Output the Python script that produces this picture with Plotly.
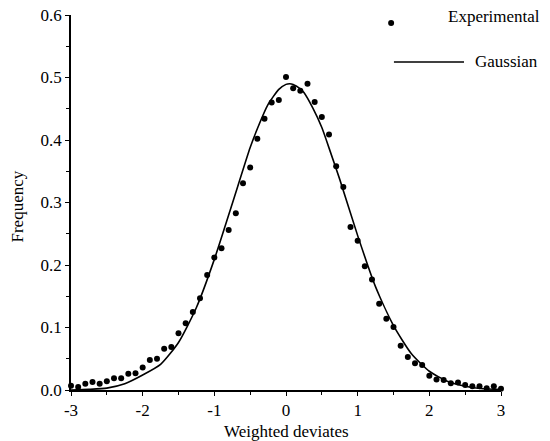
import plotly.graph_objects as go

# Experimental points (weighted deviates vs frequency)
exp_x = [-3.0, -2.9, -2.8, -2.7, -2.6, -2.5, -2.4, -2.3, -2.2, -2.1,
         -2.0, -1.9, -1.8, -1.7, -1.6, -1.5, -1.4, -1.3, -1.2, -1.1,
         -1.0, -0.9, -0.8, -0.7, -0.6, -0.5, -0.4, -0.3, -0.2, -0.1,
         0.0, 0.1, 0.2, 0.3, 0.4, 0.5, 0.6, 0.7, 0.8, 0.9,
         1.0, 1.1, 1.2, 1.3, 1.4, 1.5, 1.6, 1.7, 1.8, 1.9,
         2.0, 2.1, 2.2, 2.3, 2.4, 2.5, 2.6, 2.7, 2.8, 2.9, 3.0]
exp_y = [0.007, 0.005, 0.010, 0.013, 0.010, 0.014, 0.019, 0.019, 0.026, 0.027,
         0.036, 0.048, 0.050, 0.066, 0.069, 0.091, 0.107, 0.125, 0.147, 0.184,
         0.212, 0.227, 0.256, 0.283, 0.331, 0.356, 0.402, 0.434, 0.460, 0.464,
         0.501, 0.483, 0.479, 0.490, 0.461, 0.437, 0.409, 0.358, 0.325, 0.261,
         0.239, 0.198, 0.177, 0.138, 0.114, 0.101, 0.071, 0.053, 0.043, 0.040,
         0.023, 0.017, 0.016, 0.011, 0.012, 0.008, 0.006, 0.006, 0.003, 0.006, 0.002]

# Gaussian curve
gauss_x = [-3.0, -2.75, -2.5, -2.25, -2.0, -1.75, -1.5, -1.25, -1.0, -0.75,
           -0.5, -0.4, -0.25, -0.1, 0.0, 0.05, 0.1, 0.2, 0.25, 0.375, 0.5, 0.625,
           0.75, 1.0, 1.25, 1.5, 1.75, 2.0, 2.25, 2.5, 2.75, 3.0]
gauss_y = [0.000, 0.001, 0.003, 0.010, 0.024, 0.041, 0.076, 0.132, 0.209, 0.298,
           0.388, 0.418, 0.457, 0.481, 0.489, 0.490, 0.489, 0.482, 0.476, 0.451, 0.420, 0.379,
           0.337, 0.247, 0.165, 0.103, 0.058, 0.030, 0.014, 0.006, 0.002, 0.001]

x_ticks = [-3, -2, -1, 0, 1, 2, 3]
y_ticks = [0.0, 0.1, 0.2, 0.3, 0.4, 0.5, 0.6]
y_tick_labels = ["0.0", "0.1", "0.2", "0.3", "0.4", "0.5", "0.6"]

font_family = "Liberation Serif, Times New Roman, serif"

fig = go.Figure()
fig.add_trace(go.Scatter(x=gauss_x, y=gauss_y, mode="lines",
                         line=dict(color="black", width=1.6, shape="spline", smoothing=0.6),
                         name="Gaussian", showlegend=False, cliponaxis=False))
fig.add_trace(go.Scatter(x=exp_x, y=exp_y, mode="markers",
                         marker=dict(color="black", size=6),
                         name="Experimental", showlegend=False, cliponaxis=False))

# Manual legend (top right)
fig.add_shape(type="circle", xref="paper", yref="paper",
              x0=0.7375, x1=0.7515, y0=0.9865, y1=0.9705,
              fillcolor="black", line=dict(color="black", width=0))
fig.add_annotation(xref="paper", yref="paper", x=0.872, y=0.995, xanchor="left",
                   yanchor="middle", text="Experimental", showarrow=False,
                   font=dict(family=font_family, size=17, color="black"))
fig.add_shape(type="line", xref="paper", yref="paper",
              x0=0.751, x1=0.914, y0=0.875, y1=0.875,
              line=dict(color="black", width=1.5))
fig.add_annotation(xref="paper", yref="paper", x=0.935, y=0.875, xanchor="left",
                   yanchor="middle", text="Gaussian", showarrow=False,
                   font=dict(family=font_family, size=17, color="black"))

# Axis titles
fig.add_annotation(xref="paper", yref="paper", x=0.5, y=-0.11, xanchor="center",
                   yanchor="middle", text="Weighted deviates", showarrow=False,
                   font=dict(family=font_family, size=17, color="black"))
fig.add_annotation(xref="paper", yref="paper", x=-0.125, y=0.49, xanchor="center",
                   yanchor="middle", text="Frequency", showarrow=False, textangle=-90,
                   font=dict(family=font_family, size=17, color="black"))

fig.update_layout(
    width=550, height=441,
    margin=dict(l=71, r=49, t=15, b=51, autoexpand=False),
    paper_bgcolor="white", plot_bgcolor="white",
    font=dict(family=font_family, size=17, color="black"),
    showlegend=False,
)
fig.update_xaxes(range=[-3, 3], tickvals=x_ticks, ticktext=[str(v) for v in x_ticks],
                 automargin=False,
                 showline=True, linecolor="black", linewidth=1.5,
                 ticks="outside", ticklen=4, tickcolor="black", tickwidth=1.2,
                 minor=dict(dtick=0.5, tick0=0, ticks="outside", ticklen=3, tickcolor="black"),
                 showgrid=False, zeroline=False,
                 tickfont=dict(family=font_family, size=17, color="black"))
fig.update_yaxes(range=[0, 0.6], tickvals=y_ticks, ticktext=y_tick_labels,
                 automargin=False,
                 showline=True, linecolor="black", linewidth=1.5,
                 ticks="outside", ticklen=4, tickcolor="black", tickwidth=1.2,
                 minor=dict(dtick=0.05, tick0=0, ticks="outside", ticklen=3, tickcolor="black"),
                 showgrid=False, zeroline=False,
                 tickfont=dict(family=font_family, size=17, color="black"))

fig.write_html("out.html", config={"displayModeBar": False},
               post_script="document.body.style.margin='0';")
